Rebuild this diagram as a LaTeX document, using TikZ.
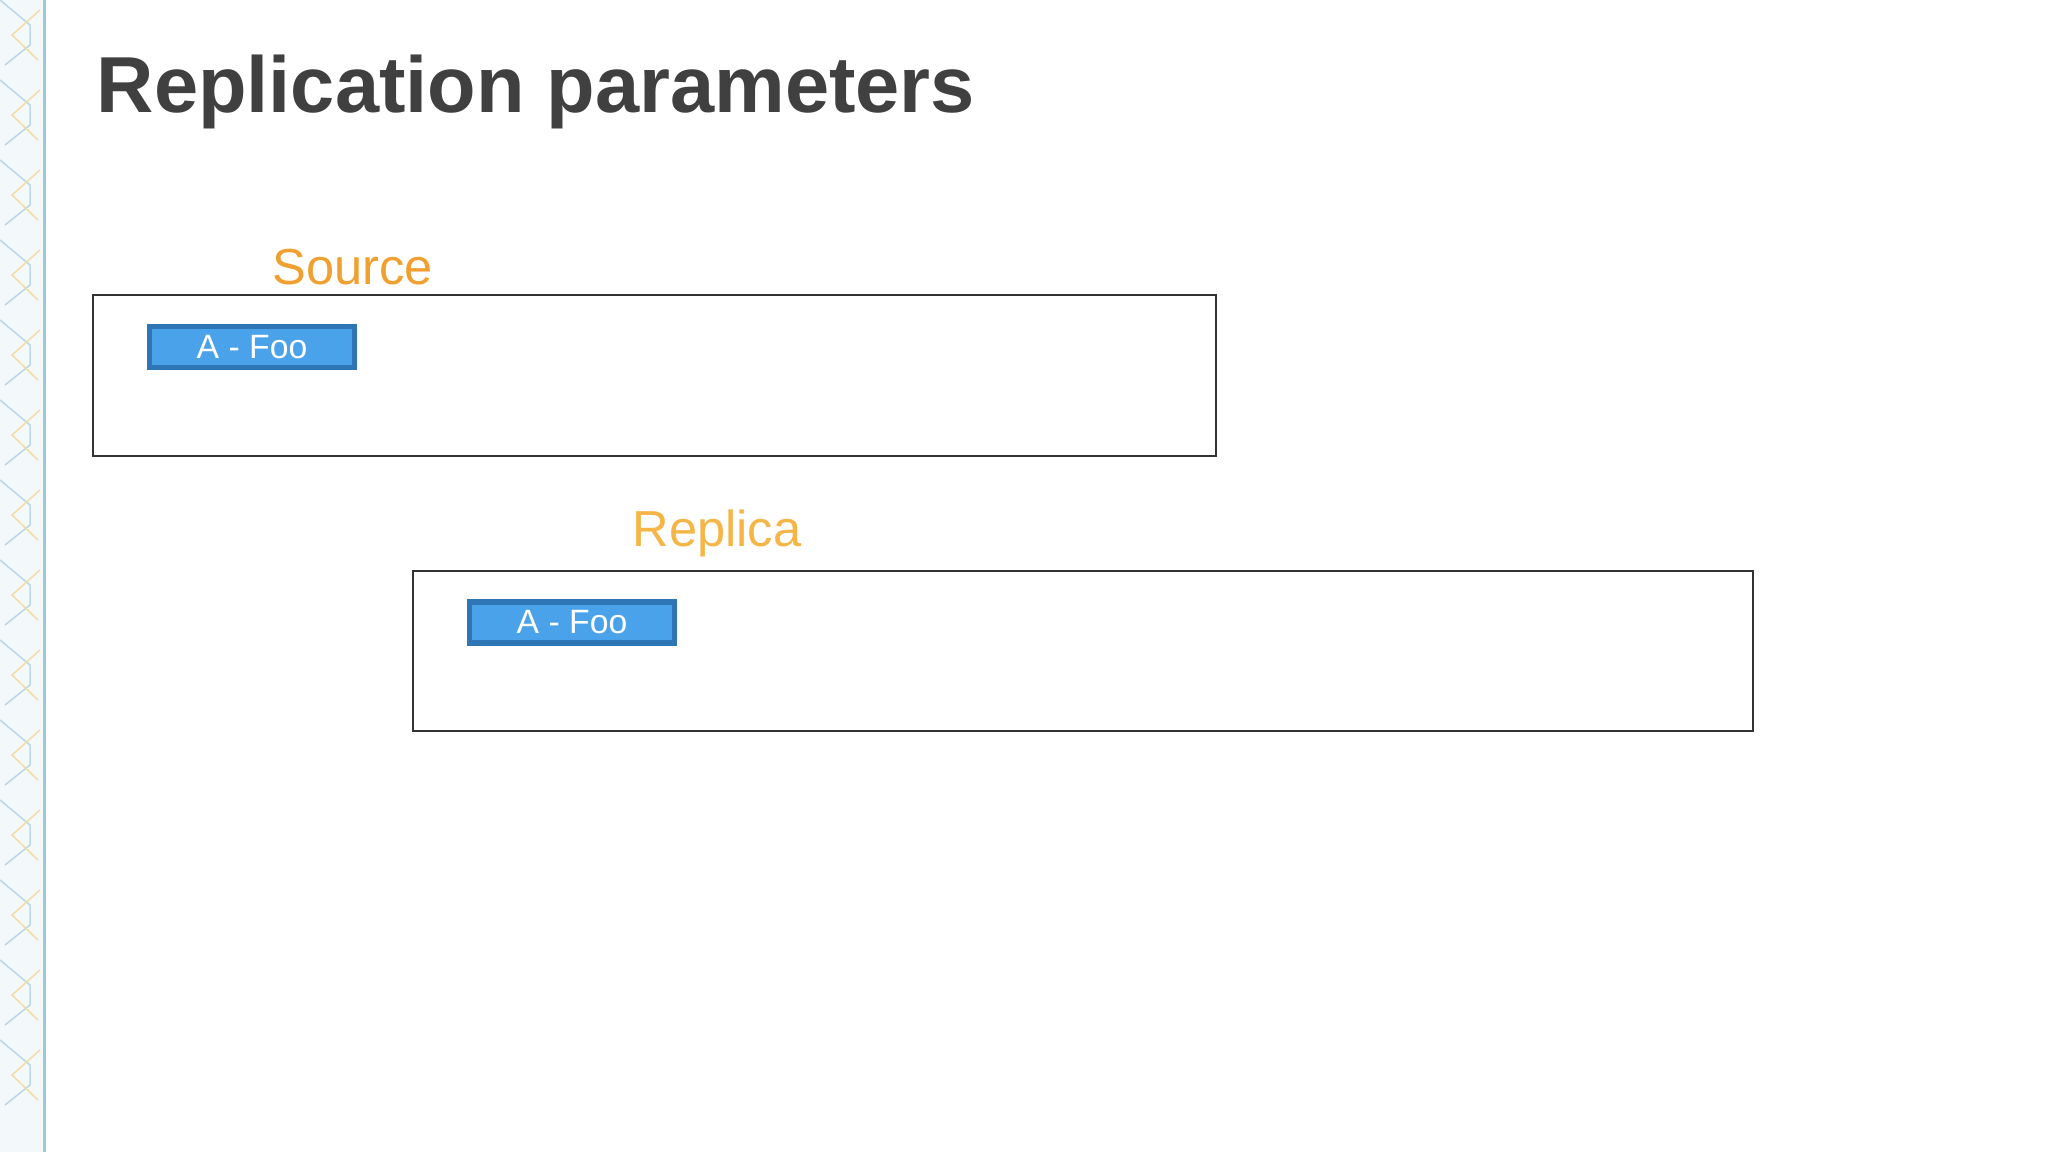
\documentclass[tikz,border=0pt]{standalone}
\usepackage{fontspec}
\setmainfont{Liberation Sans}
\usetikzlibrary{positioning}

\definecolor{titlegray}{HTML}{404040}
\definecolor{srcorange}{HTML}{F0A030}
\definecolor{repcorange}{HTML}{F5B547}
\definecolor{tagfill}{HTML}{4AA3EA}
\definecolor{tagdraw}{HTML}{2E75B6}
\definecolor{stripblue}{HTML}{9CC8DC}
\definecolor{stripgold}{HTML}{F3DCA8}

\tikzset{
  frame/.style={draw=black!80, line width=0.02cm},
  tag/.style={draw=tagdraw, fill=tagfill, line width=0.055cm, text=white,
    minimum width=2.05cm, minimum height=0.41cm, inner sep=0pt,
    font=\fontsize{9.6}{11}\selectfont},
  grouplabel/.style={anchor=base west, inner sep=0pt, font=\fontsize{14.4}{16}\selectfont}
}

\begin{document}
\begin{tikzpicture}
  \useasboundingbox (0cm,0cm) rectangle (20.48cm,-11.52cm);
  \fill[white] (0cm,0cm) rectangle (20.48cm,-11.52cm);
  % left decoration strip
  \fill[stripblue!12] (0cm,0cm) rectangle (0.46cm,-11.52cm);
  \foreach \y in {0,0.8,...,11.2} {
    \draw[stripblue!70, line width=0.015cm] (0cm,-\y cm) -- (0.3cm,-\y cm-0.25cm) -- (0.3cm,-\y cm-0.45cm) -- (0.05cm,-\y cm-0.65cm);
    \draw[stripgold, line width=0.015cm] (0.4cm,-\y cm-0.1cm) -- (0.12cm,-\y cm-0.35cm) -- (0.38cm,-\y cm-0.6cm);
  }
  \draw[stripblue, line width=0.03cm] (0.45cm,0cm) -- (0.45cm,-11.52cm);

  % title
  \node[anchor=base west, inner sep=0pt, text=titlegray, font=\fontsize{22.6}{26}\selectfont\bfseries] (title) at (0.96cm,-1.13cm) {Replication parameters};

  % source
  \node[grouplabel, text=srcorange] (srclabel) at (2.72cm,-2.85cm) {Source};
  \draw[frame] (0.93cm,-2.95cm) rectangle (12.16cm,-4.56cm);
  \node[tag] (srctag) at (2.52cm,-3.47cm) {A - Foo};

  % replica
  \node[grouplabel, text=repcorange] (replabel) at (6.32cm,-5.47cm) {Replica};
  \draw[frame] (4.13cm,-5.71cm) rectangle (17.53cm,-7.31cm);
  \node[tag] (reptag) at (5.72cm,-6.225cm) {A - Foo};
\end{tikzpicture}
\end{document}
